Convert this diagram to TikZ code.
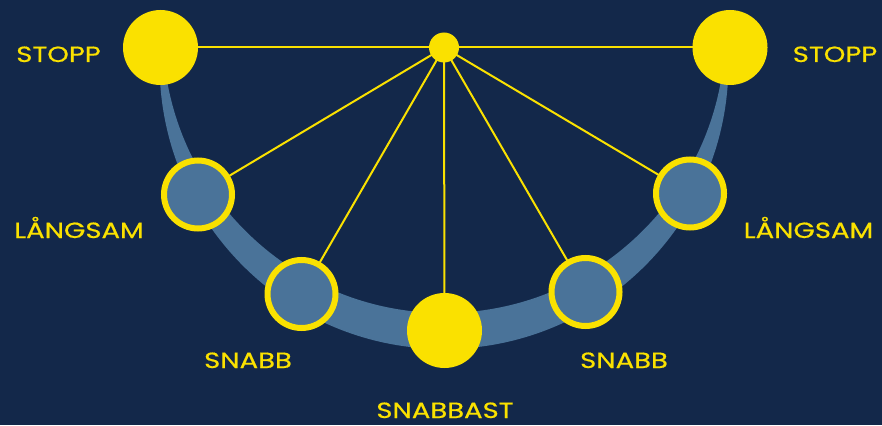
\documentclass[tikz,border=0pt]{standalone}
\usepackage{fontspec}
\setmainfont{Poppins}[FakeStretch=1.25, FakeBold=0.6]
\usetikzlibrary{backgrounds}
\definecolor{navy}{HTML}{13284A}
\definecolor{sun}{HTML}{FAE100}
\definecolor{steel}{HTML}{4A7399}
\tikzset{
  ball/.style={circle, fill=sun, inner sep=0pt, minimum size=75pt},
  ring/.style={circle, fill=steel, draw=sun, line width=6pt, inner sep=0pt, minimum size=68pt},
  hub/.style={circle, fill=sun, inner sep=0pt, minimum size=30pt},
  rod/.style={draw=sun, line width=2pt},
  lbl/.style={text=sun, font=\fontsize{22}{26}\selectfont, inner sep=0pt,
              text depth=0pt, anchor=base}
}
\begin{document}
\begin{tikzpicture}[x=1pt, y=-1pt]
\useasboundingbox (0,0) rectangle (882,425);

% pivot and bobs
\node[hub]  (pivot) at (444,47.5) {};
\node[ball] (stopL) at (160.5,47.5) {};
\node[ball] (stopR) at (730,47.5) {};
\node[ring] (slowL) at (198,194.5) {};
\node[ring] (slowR) at (690,193.5) {};
\node[ring] (fastL) at (301.5,294) {};
\node[ring] (fastR) at (585.5,292) {};
\node[ball] (fastest) at (444.5,330.5) {};

% labels (placed by baseline)
\node[lbl] (tStopL) at (58.5,62) {STOPP};
\node[lbl] (tStopR) at (835,62) {STOPP};
\node[lbl] (tSlowL) at (79,238) {LÅNGSAM};
\node[lbl] (tSlowR) at (808.5,238) {LÅNGSAM};
\node[lbl] (tFastL) at (248,368) {SNABB};
\node[lbl] (tFastR) at (624,368) {SNABB};
\node[lbl] (tFastest) at (445,418) {SNABBAST};

\begin{scope}[on background layer]
  \fill[navy] (0,0) rectangle (882,425);
  % crescent-shaped swing path
  \begin{scope}
    \clip (0,47.5) rectangle (882,425);
    \fill[steel, even odd rule] (444,64.6) circle (284.4pt) (444,31.8) circle (281.2pt);
  \end{scope}
  % rods
  \draw[rod] (stopL.center) -- (pivot.center) -- (stopR.center);
  \foreach \b in {slowL, slowR, fastL, fastR, fastest}
    \draw[rod] (pivot.center) -- (\b.center);
\end{scope}
\end{tikzpicture}
\end{document}
